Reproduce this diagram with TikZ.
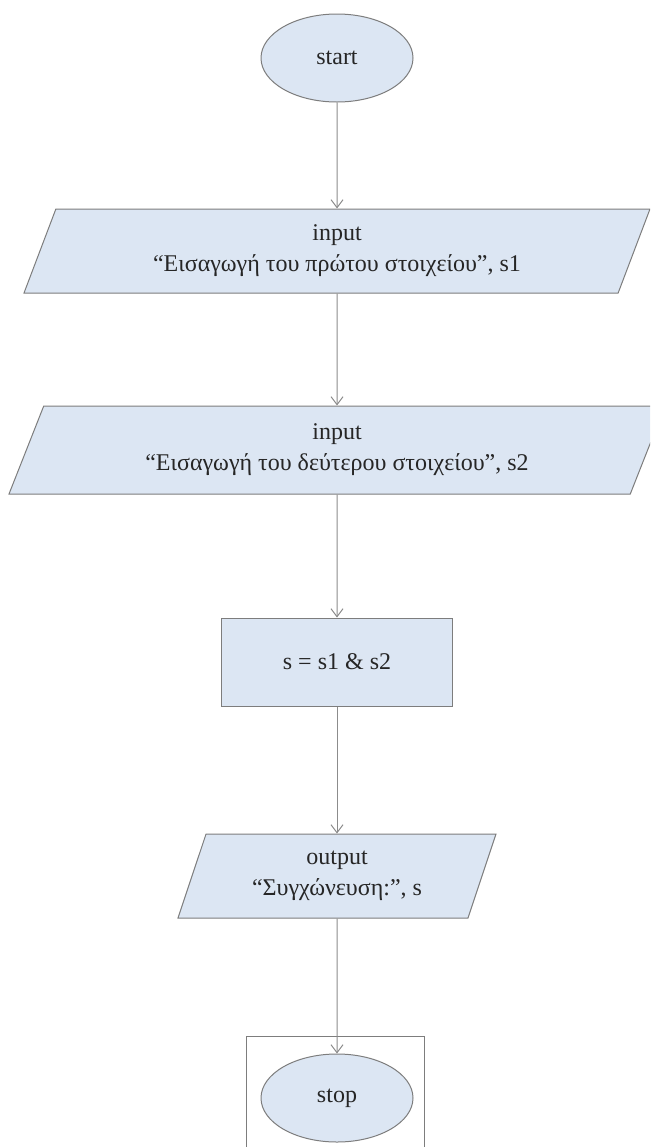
\documentclass[tikz,border=0pt]{standalone}
\usepackage{fontspec}
\setmainfont{Liberation Serif}
\usetikzlibrary{shapes.geometric, arrows.meta}
\definecolor{boxblue}{RGB}{220,230,243}
\definecolor{edgegray}{RGB}{125,125,125}
\definecolor{linegray}{RGB}{140,140,140}
\tikzstyle{startstop} = [ellipse, minimum width=76pt, minimum height=44pt, text centered, draw=edgegray, fill=boxblue, line width=0.5pt]
\tikzstyle{io} = [trapezium, trapezium stretches body=true, trapezium left angle=64, trapezium right angle=116, minimum height=42pt, align=center, draw=edgegray, fill=boxblue, line width=0.5pt]
\tikzstyle{process} = [rectangle, minimum width=115.5pt, minimum height=44pt, text centered, draw=edgegray, fill=boxblue, line width=0.5pt]
\tikzstyle{arrow} = [draw=linegray, line width=0.5pt, -{Straight Barb[length=4pt,width=6pt]}]

\begin{document}
\begin{tikzpicture}[x=0.5pt, y=-0.5pt, font=\fontsize{12}{15.5}\selectfont, text=black!85]
    \useasboundingbox (0,0) rectangle (650,1147);
    \clip (0,0) rectangle (650,1147);
    \node (start) [startstop] at (337,58) {start};
    \node (in1) [io, below of=start, node distance=96.5pt, minimum width=313pt] {input\\“Εισαγωγή του πρώτου στοιχείου”, s1};
    \node (in2) [io, below of=in1, node distance=99.5pt, minimum width=328pt, minimum height=44pt, trapezium left angle=62, trapezium right angle=118] {input\\“Εισαγωγή του δεύτερου στοιχείου”, s2};
    \node (join) [process, below of=in2, node distance=106pt] {s = s1 \& s2};
    \node (out) [io, below of=join, node distance=107pt, minimum width=159pt, trapezium left angle=66, trapezium right angle=114] {output\\“Συγχώνευση:”, s};
    \node (stop) [startstop, below of=out, node distance=111pt] {stop};
    \draw [edgegray, line width=0.5pt] (246,1160) |- (424,1036) -- (424,1160);
    \draw [arrow] (start) -- (in1);
    \draw [arrow] (in1) -- (in2);
    \draw [arrow] (in2) -- (join);
    \draw [arrow] (join) -- (out);
    \draw [arrow] (out) -- (stop);
\end{tikzpicture}
\end{document}
